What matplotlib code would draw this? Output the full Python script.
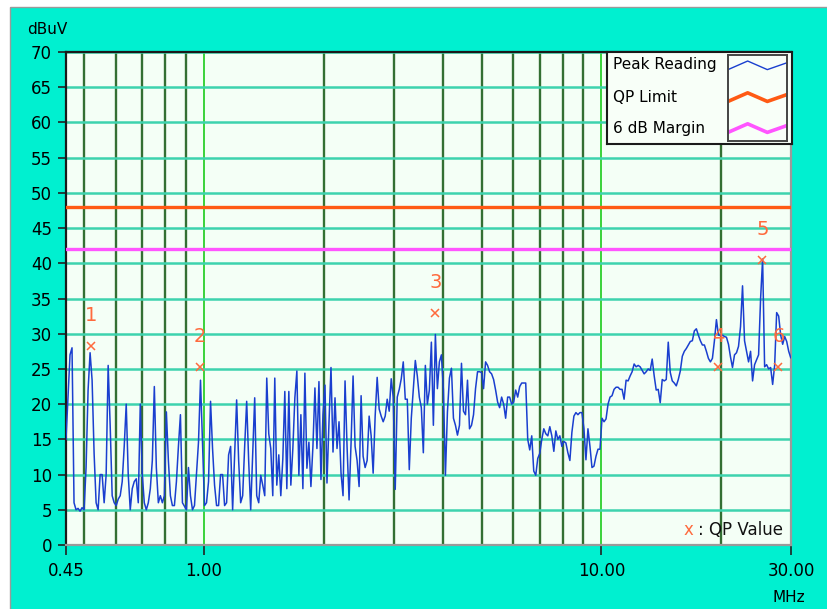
import numpy as np
import matplotlib.pyplot as plt
from matplotlib.patches import Rectangle

# -----------------------------
# DATA
# -----------------------------
# sweep limits (log spaced sweep points)
FREQ_START = 0.45
FREQ_STOP = 29.95

PEAK_READING = [
    15, 21, 27, 28, 6, 5, 5.2, 4.8, 5.3, 5, 11, 22, 27.3, 23.4, 13, 6, 5, 10, 10, 6,
    10, 25.5, 17, 7, 6, 5.6, 6.5, 7, 9, 14, 20, 10, 5, 8, 9, 9.4, 6, 20, 10, 6,
    5, 6, 8, 12, 22.5, 11, 6, 7, 6, 7, 18.9, 12, 7, 5.6, 5.6, 9, 14, 18.5, 6, 5.5,
    5, 11, 7, 5, 5.6, 10, 14.6, 23.4, 14.6, 5.6,
    6, 9, 20.4, 13.7, 8.5, 5.6, 5.6, 10, 10, 5.6, 6, 12.8, 14, 5, 13, 20.6, 12, 6, 7, 14,
    20.4, 11.9, 5, 12.8, 20.9, 7, 6, 9.9, 8.5, 7, 23.7, 15.8, 13.7, 7, 23.7, 8.5, 12.8, 7, 12.2, 21.8,
    8, 21.8, 8.5, 13.7, 20.9, 24.7, 9.9, 18.5, 8, 24.4,
    10.9, 14.6, 8.3, 14, 22.3, 13.7, 23.2, 9.3, 18.5, 22.7, 8.8, 17.4, 25.2, 13.2, 20.9, 13.7, 17.5, 10.2, 7, 23.3,
    14, 6.4, 14.5, 24, 14, 12, 8.3, 21.2, 12.6, 11, 12, 18.3, 15.5, 10.2, 18.3, 23.8, 19.3, 18.3, 17.5, 18.3,
    20.7, 19, 23.6, 21, 7.9, 21, 22.1, 23.6, 26, 20.7,
    20.7, 10.7, 18, 22.1, 26.2, 24, 21, 19.5, 13.1, 25.5, 20, 22, 28.8, 17, 29.9, 22.2, 26, 27, 22, 9.9,
    18.9, 23.7, 25.1, 18, 17, 15.6, 17, 25.8, 19, 18.5, 23.4, 16.5, 17, 18.5, 22.2, 24.6, 24.6, 24.5, 22.2, 26,
    25.5, 24.6, 24.3, 23.5, 22, 20.3, 19.5, 21, 20, 18,
    21, 21, 20, 20.3, 22, 21, 22.5, 23, 23, 23, 15, 13.5, 15.5, 10.5, 9.9, 12.3, 13, 15, 16.5, 15.8,
    15.5, 16.8, 15.5, 13.3, 16.2, 15, 15.5, 14, 14.7, 14.5, 13.1, 12, 16, 18.3, 18.8, 18.5, 18.8, 18.8, 16.5, 12.1,
    16.5, 14, 11, 11.2, 12.6, 13.6, 13.6, 18, 17.5, 17.9,
    20, 21, 21.2, 22.1, 22.4, 22.4, 22.1, 22.1, 20.7, 23.4, 23.3, 24, 24.6, 25.7, 25.3, 25.5, 25.3, 24.8, 24.3, 24.6,
    25, 24.8, 26.4, 24, 22, 22.1, 20.2, 23.5, 23.3, 23.5, 28.8, 24.5, 23.3, 23, 22.6, 23.5, 24.7, 26.8, 27.5, 27.9,
    28.4, 28.9, 29, 30.4, 30.7, 29.8, 29, 28.4, 28.4, 27.5,
    26.5, 26, 26.5, 29, 32, 29.8, 29.8, 29.8, 29.6, 29.5, 28.5, 26.7, 25.2, 27, 27.3, 28.2, 31, 36.8, 29, 27.5,
    26, 27.5, 23.3, 25.6, 26.3, 27, 35, 40.6, 25.3, 25.6, 25, 25.2, 22.8, 25.5, 33, 32.5, 29.8, 28.5, 29.6, 28.9,
    27.5, 26.6,
]

QP_LIMIT = 48
MARGIN_6DB = 42

QP_FREQ = [0.519, 0.979, 3.82, 19.7, 25.4, 27.9]
QP_VALUE = [28.2, 25.3, 32.9, 25.3, 40.4, 25.3]
QP_LABELS = ["1", "2", "3", "4", "5", "6"]

X_TICKS = [0.45, 1, 10, 30]
X_TICK_LABELS = ["0.45", "1.00", "10.00", "30.00"]
Y_TICKS = list(range(0, 75, 5))

GRID_DARK = [0.5, 0.6, 0.7, 0.8, 0.9, 2, 3, 4, 5, 6, 7, 8, 9, 20]
GRID_BRIGHT = [1, 10]

LEGEND_LABELS = ["Peak Reading", "QP Limit", "6 dB Margin"]
LEGEND_WAVE = [0.0, 1.0, 0.0, 0.8]

# -----------------------------
# COLOURS
# -----------------------------
BG = "#00f0d0"
PLOT_BG = "#f4fff6"
HGRID = "#3dd3ae"
VGRID_DARK = "#336f33"
VGRID_BRIGHT = "#3ad23a"
TRACE = "#1a3fcf"
QP_COLOR = "#ff5a14"
MARGIN_COLOR = "#ff55ff"
MARKER = "#ff6a3d"

W, H = 827, 609

fig = plt.figure(figsize=(W / 100, H / 100), dpi=100, facecolor="white")
# cyan panel with a grey edge on top / left
fig.patches.append(Rectangle((10 / W, -0.05), 1.1, 1 - 7 / H + 0.05, transform=fig.transFigure,
                             facecolor=BG, edgecolor="#9a9a9a", lw=1, zorder=-10))

ax = fig.add_axes([66 / W, 1 - 545 / H, 725 / W, 493 / H])
ax.set_facecolor(PLOT_BG)

freqs = np.geomspace(FREQ_START, FREQ_STOP, len(PEAK_READING))

# grid
for f in GRID_DARK:
    ax.axvline(f, color=VGRID_DARK, lw=1.7, zorder=1)
for f in GRID_BRIGHT:
    ax.axvline(f, color=VGRID_BRIGHT, lw=1.4, zorder=1)
for v in Y_TICKS[1:]:
    ax.axhline(v, color=HGRID, lw=1.8, zorder=1.5)

ax.plot(freqs, PEAK_READING, color=TRACE, lw=1.1, zorder=3)
ax.axhline(QP_LIMIT, color=QP_COLOR, lw=2.4, zorder=4)
ax.axhline(MARGIN_6DB, color=MARGIN_COLOR, lw=2.4, zorder=4)

ax.plot(QP_FREQ, QP_VALUE, "x", ms=6, mew=1.1, color=MARKER, zorder=5)
for f, v, lab in zip(QP_FREQ, QP_VALUE, QP_LABELS):
    ax.annotate(lab, (f, v), xytext=(0, 22), textcoords="offset points",
                ha="center", va="center", color=MARKER, fontsize=14, zorder=5)

ax.set_xscale("log")
ax.set_xlim(0.45, 30)
ax.set_ylim(0, 70)
ax.set_xticks(X_TICKS)
ax.set_xticklabels(X_TICK_LABELS)
ax.xaxis.set_minor_locator(plt.NullLocator())
ax.set_yticks(Y_TICKS)
ax.tick_params(axis="y", direction="out", length=6, width=1.2, pad=4, labelsize=12, color="#222222")
ax.tick_params(axis="x", direction="out", length=7, width=1.2, pad=5, labelsize=12, color="#222222")

for side in ("left", "top"):
    ax.spines[side].set_color("#1a1a1a")
    ax.spines[side].set_linewidth(1.6)
for side in ("right", "bottom"):
    ax.spines[side].set_color("#9a9a9a")
    ax.spines[side].set_linewidth(1.6)

ax.text(0.858, 0.03, "x", color=MARKER, fontsize=12, ha="center", va="center", transform=ax.transAxes, zorder=6)
ax.text(0.872, 0.03, ": QP Value", color="#111111", fontsize=12, ha="left", va="center",
        transform=ax.transAxes, zorder=6)

fig.text(27 / W, 1 - 29 / H, "dBuV", fontsize=11, ha="left", va="center")
fig.text(789 / W, 1 - 597 / H, "MHz", fontsize=11, ha="center", va="center")

# -----------------------------
# LEGEND (drawn by hand)
# -----------------------------
lax = fig.add_axes([607 / W, 1 - 144 / H, 185 / W, 92 / H])
lax.set_facecolor("#f8fff8")
lax.set_xticks([])
lax.set_yticks([])
for s in lax.spines.values():
    s.set_color("#1a1a1a")
    s.set_linewidth(1.5)
for lab, yy in zip(LEGEND_LABELS, [0.86, 0.51, 0.17]):
    lax.text(0.03, yy, lab, fontsize=11, ha="left", va="center", transform=lax.transAxes)

sax = fig.add_axes([728 / W, 1 - 141 / H, 59 / W, 86 / H])
sax.set_facecolor("#f8fff8")
sax.set_xticks([])
sax.set_yticks([])
for s in sax.spines.values():
    s.set_color("#444444")
    s.set_linewidth(1.4)
sax.set_xlim(0, 3)
sax.set_ylim(0, 1)
wave_x = np.arange(len(LEGEND_WAVE))
for base, col, lw in [(0.83, TRACE, 1.0), (0.46, QP_COLOR, 2.6), (0.1, MARGIN_COLOR, 2.6)]:
    sax.plot(wave_x, base + 0.1 * np.array(LEGEND_WAVE), color=col, lw=lw)

fig.savefig("out.png", dpi=100, facecolor=fig.get_facecolor())
